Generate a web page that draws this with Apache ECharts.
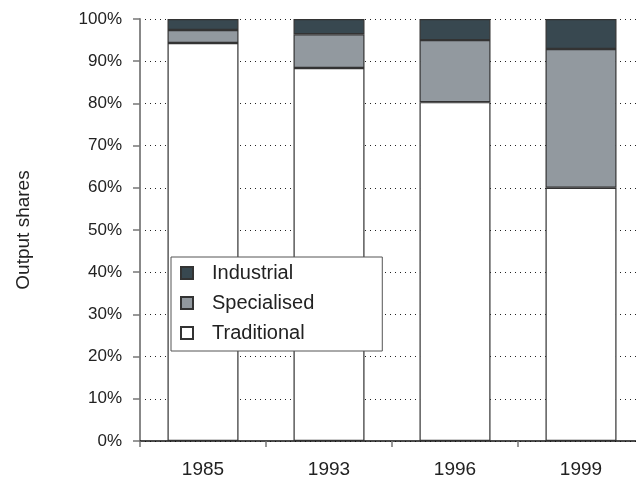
<!DOCTYPE html>
<html>
<head>
<meta charset="utf-8">
<script src="https://cdn.jsdelivr.net/npm/echarts@6/dist/echarts.min.js"></script>
<style>
  html, body { margin: 0; padding: 0; background: #fff; }
  #canvas { width: 636px; height: 479px; }
</style>
</head>
<body>
<div id="canvas"></div>
<script>
// years on the x axis
var years = ['1985', '1993', '1996', '1999'];
// output shares, in percent
var traditional = [94.3, 88.4, 80.3, 60.0];
var specialised = [3.1, 8.0, 14.7, 32.9];
var industrial = [2.6, 3.6, 5.0, 7.1];

var dom = document.getElementById("canvas");
var myChart = echarts.init(dom);
var font = 'Liberation Sans, Arial, sans-serif';
var edge = {borderColor: '#333', borderWidth: 1.2};

var option = {
    animation: false,
    textStyle: {fontFamily: font},
    grid: {left: 140, top: 19, width: 504, height: 422, outerBoundsMode: 'none', containLabel: false},
    legend: {
        orient: 'vertical',
        left: 171,
        top: 257,
        data: ['Industrial', 'Specialised', 'Traditional'],
        icon: 'rect',
        itemWidth: 12,
        itemHeight: 12,
        itemGap: 10,
        padding: [6, 68, 8, 9],
        borderColor: '#555',
        borderWidth: 1,
        backgroundColor: '#fff',
        selectedMode: false,
        textStyle: {fontSize: 20, color: '#222', padding: [0, 0, 0, 14], fontFamily: font}
    },
    xAxis: {
        type: 'category',
        data: years,
        axisLine: {lineStyle: {color: '#111', width: 1.5}},
        axisTick: {show: true, length: 6, lineStyle: {color: '#777', width: 1.5}},
        axisLabel: {fontSize: 19, color: '#222', margin: 19}
    },
    yAxis: {
        type: 'value',
        min: 0,
        max: 100,
        interval: 10,
        name: 'Output shares',
        nameLocation: 'middle',
        nameGap: 107,
        nameTextStyle: {fontSize: 19, color: '#222'},
        axisLine: {show: true, lineStyle: {color: '#888', width: 2}},
        axisTick: {show: true, length: 7, lineStyle: {color: '#777', width: 1.5}},
        axisLabel: {fontSize: 17, color: '#222', margin: 18, formatter: '{value}%'},
        splitLine: {lineStyle: {color: '#222', type: [1, 4], width: 1}}
    },
    series: [
        {
            name: 'Traditional',
            type: 'bar',
            stack: 'all',
            barWidth: 71,
            data: traditional,
            itemStyle: Object.assign({color: '#ffffff'}, edge)
        },
        {
            name: 'Specialised',
            type: 'bar',
            stack: 'all',
            data: specialised,
            itemStyle: Object.assign({color: '#92999f'}, edge)
        },
        {
            name: 'Industrial',
            type: 'bar',
            stack: 'all',
            data: industrial,
            itemStyle: Object.assign({color: '#384850'}, edge)
        }
    ]
};
myChart.setOption(option, true);
</script>
</body>
</html>
